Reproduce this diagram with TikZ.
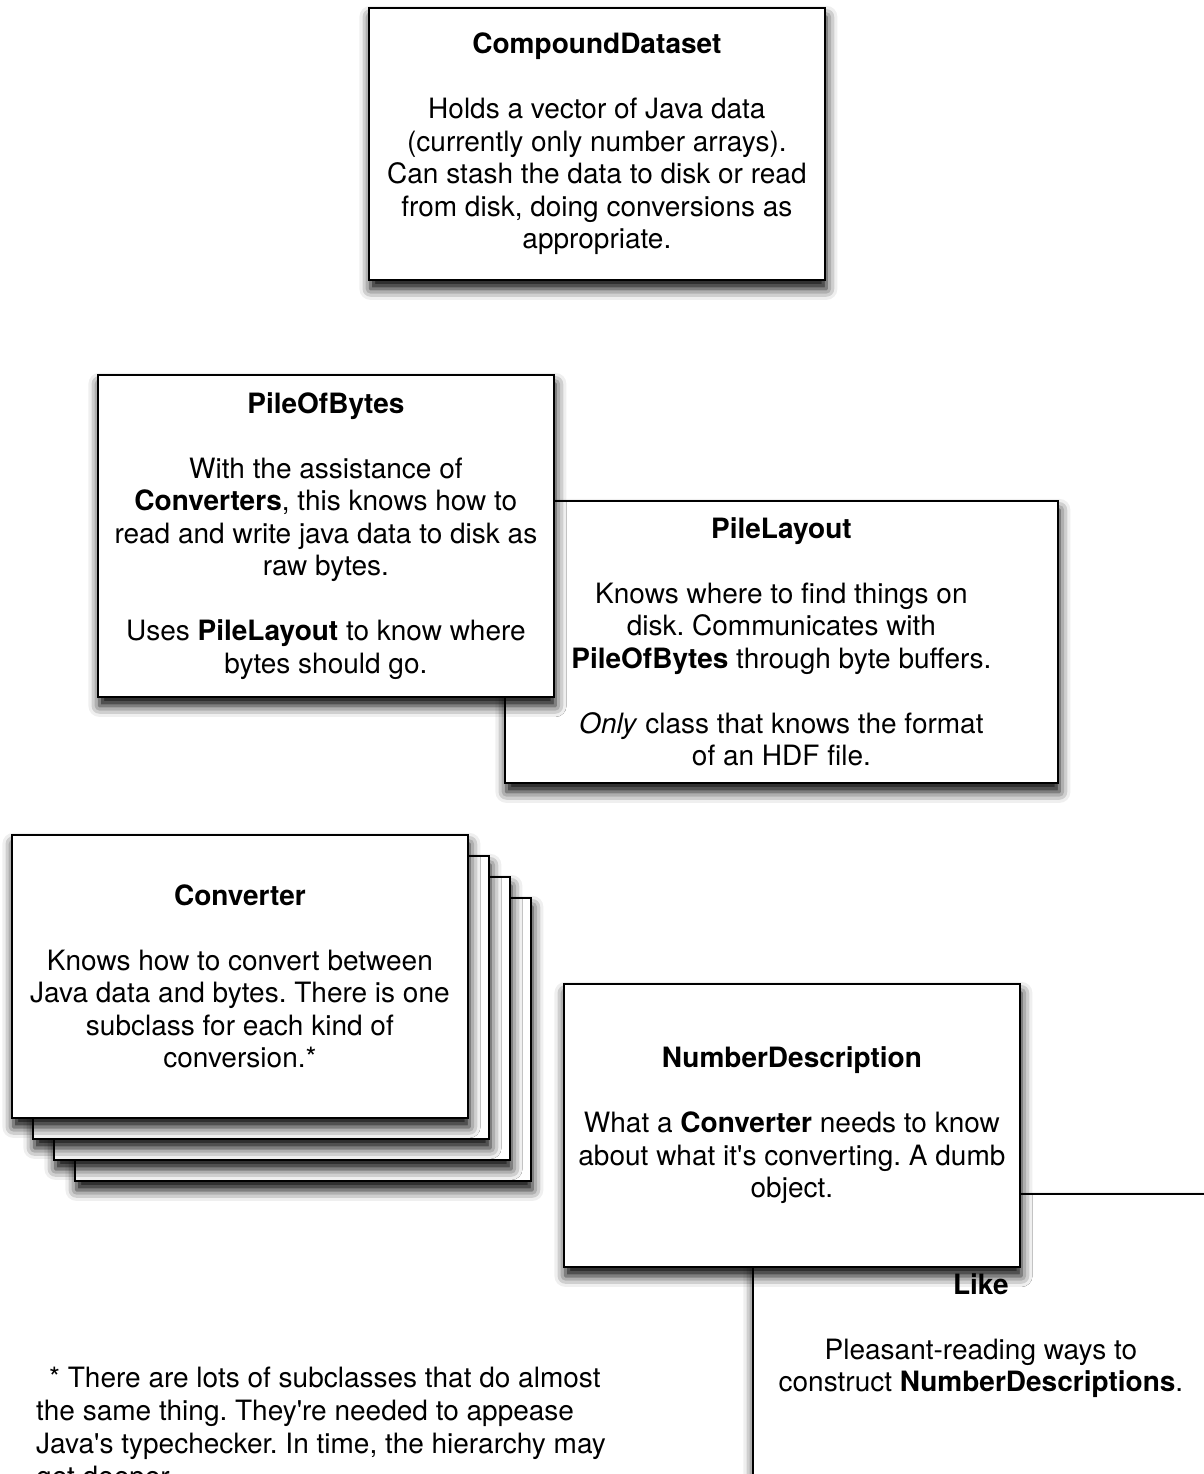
\documentclass[tikz,border=0pt]{standalone}
\usepackage{fontspec}
\setmainfont{TeX Gyre Heros}
\usepackage{tikz}
\usetikzlibrary{positioning,shadows.blur}
\definecolor{CardBorder}{HTML}{000000}
\definecolor{CardFill}{HTML}{FFFFFF}
\frenchspacing

\newcommand{\cardtitle}[1]{\textbf{#1}\\[32.5pt]}

\begin{document}
\begin{tikzpicture}[x=1pt, y=-1pt,
    card/.style={draw=CardBorder, fill=CardFill, line width=1.8pt, inner sep=0pt, anchor=north west, align=center, font=\fontsize{28}{32.5}\selectfont, blur shadow={shadow xshift=1.5pt, shadow yshift=-9pt, shadow blur radius=11pt, shadow opacity=100}},
    cardsize/.style={minimum width=456pt, minimum height=283pt},
    note/.style={anchor=north west, inner sep=0pt, align=left, font=\fontsize{28}{32.8}\selectfont}
  ]
    \useasboundingbox (0,0) rectangle (1203,1474);

    \node[card, minimum width=456pt, minimum height=272pt] (cds) at (368,7) {\cardtitle{CompoundDataset}Holds a vector of Java data\\(currently only number arrays).\\Can stash the data to disk or read\\from disk, doing conversions as\\appropriate.};

    \node[card, minimum width=553pt, minimum height=282pt] (layout) at (504,500) {\cardtitle{PileLayout}Knows where to find things on\\disk. Communicates with\\\textbf{PileOfBytes} through byte buffers.\\[32.5pt]\textit{Only} class that knows the format\\of an HDF file.};
    \node[card, minimum width=456pt, minimum height=322pt] (bytes) at (97,374) {\cardtitle{PileOfBytes}With the assistance of\\\textbf{Converters}, this knows how to\\read and write java data to disk as\\raw bytes.\\[32.5pt]Uses \textbf{PileLayout} to know where\\bytes should go.};

    \foreach \i/\d in {4/63, 3/42, 2/21}
      \node[card, cardsize] (conv\i) at (11+\d,834+\d) {};
    \node[card, cardsize] (conv) at (11,834) {\cardtitle{Converter}Knows how to convert between\\Java data and bytes. There is one\\subclass for each kind of\\conversion.*};

    \node[card, cardsize] (like) at (752,1193) {\cardtitle{Like}Pleasant-reading ways to\\construct \textbf{NumberDescriptions}.};
    \node[card, cardsize] (numdesc) at (563,983) {\cardtitle{NumberDescription}What a \textbf{Converter} needs to know\\about what it\textquotesingle s converting. A dumb\\object.};

    \node[note] (footnote) at (36,1367) {\hspace*{13pt}* There are lots of subclasses that do almost\\the same thing. They\textquotesingle re needed to appease\\Java\textquotesingle s typechecker. In time, the hierarchy may\\get deeper.};
  \end{tikzpicture}
\end{document}
